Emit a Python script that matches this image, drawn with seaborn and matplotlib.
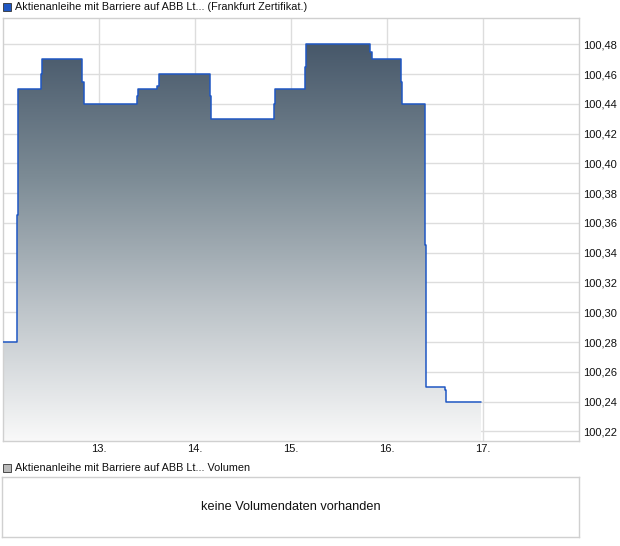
import matplotlib
matplotlib.use("Agg")
import matplotlib.pyplot as plt
import matplotlib.ticker as mticker
from matplotlib.colors import LinearSegmentedColormap
from matplotlib.patches import Rectangle
import numpy as np
import seaborn as sns

tage = [12.000, 12.152, 12.162, 12.402, 12.412, 12.828, 12.843, 13.401, 13.411,
        13.609, 13.630, 14.154, 14.164, 14.826, 14.837, 15.149, 15.159, 15.825,
        15.840, 16.152, 16.162, 16.397, 16.408, 16.606, 16.620, 16.984]
kurse = [100.28, 100.365, 100.45, 100.46, 100.47, 100.455, 100.44, 100.445, 100.45,
         100.452, 100.46, 100.445, 100.43, 100.44, 100.45, 100.465, 100.48, 100.475,
         100.47, 100.455, 100.44, 100.345, 100.25, 100.248, 100.24, 100.24]
x_ticks = [13, 14, 15, 16, 17]
x_labels = ["13.", "14.", "15.", "16.", "17."]
y_ticks = [100.22, 100.24, 100.26, 100.28, 100.30, 100.32, 100.34, 100.36,
           100.38, 100.40, 100.42, 100.44, 100.46, 100.48]

titel = "Aktienanleihe mit Barriere auf ABB Lt... (Frankfurt Zertifikat.)"
titel_vol = "Aktienanleihe mit Barriere auf ABB Lt... Volumen"
kein_vol = "keine Volumendaten vorhanden"

sns.set_theme(style="white")
plt.rcParams['font.family'] = ['Liberation Sans', 'DejaVu Sans']

fig = plt.figure(figsize=(6.2, 5.46), dpi=100)
ax = fig.add_axes([2.7 / 620, 1 - 441 / 546, 576.3 / 620, 423.5 / 546])

ymin, ymax = 100.2135, 100.498
xmin, xmax = 12.0, 18.0

# Stufenlinie
sns.lineplot(x=tage, y=kurse, drawstyle="steps-post", color="#1f57c3",
             linewidth=1.1, ax=ax, zorder=4)

# Farbverlauf unter der Linie
cmap = LinearSegmentedColormap.from_list("verlauf", ["#f9f9f9", "#bdc4c9", "#7c8b95", "#47586a"])
grad = np.linspace(0, 1, 256).reshape(-1, 1)
img = ax.imshow(grad, extent=[xmin, xmax, ymin, 100.48], origin="lower",
                aspect="auto", cmap=cmap, zorder=2)
fill = ax.fill_between(tage, kurse, ymin, step="post", facecolor="none",
                       edgecolor="none")
clip = fill.get_paths()[0]
img.set_clip_path(clip, transform=ax.transData)

ax.set_xlim(xmin, xmax)
ax.set_ylim(ymin, ymax)
ax.set_xticks(x_ticks)
ax.set_xticklabels(x_labels)
ax.set_yticks(y_ticks)
ax.yaxis.set_major_formatter(mticker.FuncFormatter(lambda v, p: f"{v:.2f}".replace(".", ",")))
ax.yaxis.tick_right()
ax.tick_params(axis="both", length=0, labelsize=8, colors="#111111", pad=3)
ax.tick_params(axis="x", pad=2.5)
ax.grid(True, color="#dddddd", linewidth=1, zorder=1)
ax.set_axisbelow(True)
for s in ax.spines.values():
    s.set_color("#d0d0d0")
    s.set_linewidth(1)
ax.set_xlabel("")
ax.set_ylabel("")

# Titel mit Farbkästchen
fig.patches.append(Rectangle((3 / 620, 1 - 11 / 546), 8 / 620, 8 / 546,
                             transform=fig.transFigure, facecolor="#1f57c3",
                             edgecolor="#333333", linewidth=0.6))
fig.text(15 / 620, 1 - 6.5 / 546, titel, fontsize=7.85, va="center", ha="left", color="#111111")

# Volumen-Panel
fig.patches.append(Rectangle((3 / 620, 1 - 472 / 546), 8 / 620, 8 / 546,
                             transform=fig.transFigure, facecolor="#bbbbbb",
                             edgecolor="#333333", linewidth=0.6))
fig.text(15 / 620, 1 - 468 / 546, titel_vol, fontsize=7.85, va="center", ha="left", color="#111111")

ax2 = fig.add_axes([2.3 / 620, 1 - 537 / 546, 576.4 / 620, 59.7 / 546])
ax2.set_xticks([])
ax2.set_yticks([])
for s in ax2.spines.values():
    s.set_color("#d0d0d0")
    s.set_linewidth(1)
ax2.text(0.5, 0.5, kein_vol, transform=ax2.transAxes, ha="center", va="center",
         fontsize=9.2, color="#111111")

fig.savefig("out.png", dpi=100)
